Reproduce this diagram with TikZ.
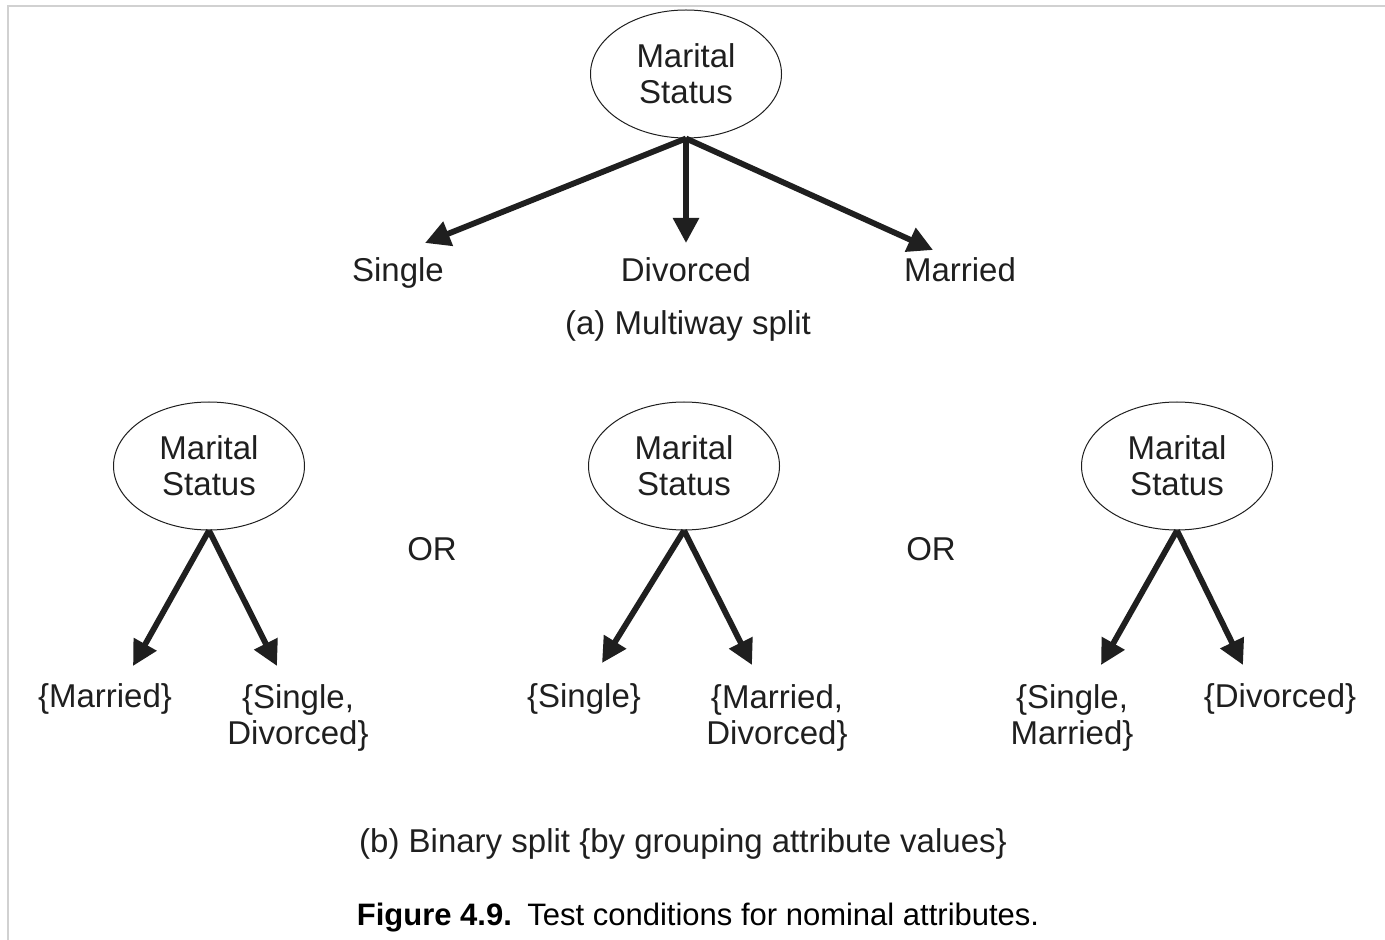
\documentclass[tikz,border=0pt]{standalone}
\usepackage{fontspec}
\setmainfont{Liberation Sans}
\usetikzlibrary{arrows.meta,shapes.geometric}
\newcommand{\cTxt}{black!88}
\newcommand{\cFrm}{black!18}
\newcommand{\fTxt}{\fontsize{16.5}{18}\selectfont}
\newcommand{\fCap}{\fontsize{15.5}{18}\selectfont}

\tikzset{
  attr/.style={ellipse, draw=\cTxt, line width=0.5pt, minimum width=95.5pt,
    minimum height=64pt, inner sep=0pt, align=center, text=\cTxt, font=\fTxt},
  val/.style={inner sep=0pt, align=center, anchor=base, text=\cTxt, font=\fTxt},
  br/.style={line width=2.9pt, draw=\cTxt, -{Triangle[length=12.5pt,width=12.5pt]}},
}

\begin{document}
\begin{tikzpicture}[x=0.5pt, y=-0.5pt]
    \useasboundingbox (0,0) rectangle (1385,940);
    % --- --- --- frame
    \draw[\cFrm, line width=1pt] (8,940) -- (8,6) -- (1385,6);
    % === === === (a) multiway split
    \node[attr] (ms) at (686,74) {Marital\\Status};
    \node[val] (sgl) at (398,282) {Single};
    \node[val] (dvc) at (686,282) {Divorced};
    \node[val] (mrd) at (960,282) {Married};
    \coordinate (tSgl) at (425,243);
    \coordinate (tDvc) at (686,243);
    \coordinate (tMrd) at (933,250);
    \draw[br] (ms.south) -- (tSgl);
    \draw[br] (ms.south) -- (tDvc);
    \draw[br] (ms.south) -- (tMrd);
    \node[val] (capA) at (688,335) {(a) Multiway split};
    % === === === (b) binary split
    % --- --- --- left
    \node[attr] (msL) at (209,466) {Marital\\Status};
    \node[val] (lM) at (105,707) {\{Married\}};
    \node[val] (lSD) at (298,744) {\{Single,\\Divorced\}};
    \coordinate (tLM) at (133,666);
    \coordinate (tLSD) at (277,666);
    \draw[br] (msL.south) -- (tLM);
    \draw[br] (msL.south) -- (tLSD);
    \node[val] (or1) at (432,560) {OR};
    % --- --- --- middle
    \node[attr] (msM) at (684,466) {Marital\\Status};
    \node[val] (mS) at (584,707) {\{Single\}};
    \node[val] (mMD) at (777,744) {\{Married,\\Divorced\}};
    \coordinate (tMS) at (602,663);
    \coordinate (tMMD) at (752,665);
    \draw[br] (msM.south) -- (tMS);
    \draw[br] (msM.south) -- (tMMD);
    \node[val] (or2) at (931,560) {OR};
    % --- --- --- right
    \node[attr] (msR) at (1177,466) {Marital\\Status};
    \node[val] (rSM) at (1072,744) {\{Single,\\Married\}};
    \node[val] (rD) at (1280,707) {\{Divorced\}};
    \coordinate (tRSM) at (1101,665);
    \coordinate (tRD) at (1243,665);
    \draw[br] (msR.south) -- (tRSM);
    \draw[br] (msR.south) -- (tRD);
    \node[val] (capB) at (683,852) {(b) Binary split \{by grouping attribute values\}};
    % === === === caption
    \node[val, font=\fCap, text=black] (fig) at (698,925)
        {\textbf{Figure 4.9.}\enskip Test conditions for nominal attributes.};
\end{tikzpicture}
\end{document}
